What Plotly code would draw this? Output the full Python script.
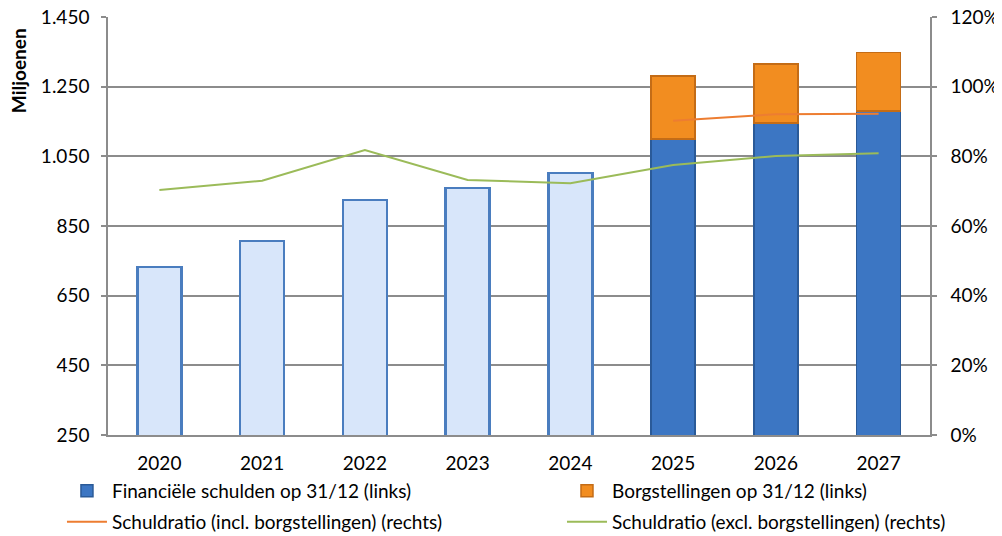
import plotly.graph_objects as go

# --- data ---
jaren = ["2020", "2021", "2022", "2023", "2024", "2025", "2026", "2027"]
financiele_schulden = [732, 807, 925, 959, 1002, 1100, 1146, 1180]
borgstellingen = [None, None, None, None, None, 181, 169, 168]
ratio_incl = [None, None, None, None, None, 0.902, 0.921, 0.922]
ratio_excl = [0.703, 0.730, 0.818, 0.732, 0.723, 0.775, 0.801, 0.809]

links_ticks = [250, 450, 650, 850, 1050, 1250, 1450]
links_labels = ["250", "450", "650", "850", "1.050", "1.250", "1.450"]
rechts_ticks = [0, 0.2, 0.4, 0.6, 0.8, 1.0, 1.2]
rechts_labels = ["0%", "20%", "40%", "60%", "80%", "100%", "120%"]

n_hist = 5  # 2020-2024 realisatie (licht), daarna raming (donker)

FONT = "Lato"
FS = 19
GRID = "#8c8c8c"

fig = go.Figure()

# realisatie: lichte balken, geen eigen legenda-item
fig.add_trace(go.Bar(
    x=jaren[:n_hist], y=financiele_schulden[:n_hist],
    marker=dict(color="#d8e6fa", line=dict(color="#4a7dbf", width=2.5)),
    width=0.43, showlegend=False,
))
# raming: donkerblauw + oranje borgstellingen erbovenop
fig.add_trace(go.Bar(
    x=jaren[n_hist:], y=financiele_schulden[n_hist:],
    name="Financiële schulden op 31/12 (links)",
    marker=dict(color="#3c76c3", line=dict(color="#2a5a98", width=1.5)),
    width=0.43, legend="legend",
))
fig.add_trace(go.Bar(
    x=jaren[n_hist:], y=borgstellingen[n_hist:],
    name="Borgstellingen op 31/12 (links)",
    marker=dict(color="#f28d20", line=dict(color="#c46c16", width=1.5)),
    width=0.43, legend="legend2",
))

fig.add_trace(go.Scatter(
    x=jaren, y=ratio_incl, yaxis="y2", mode="lines",
    name="Schuldratio (incl. borgstellingen) (rechts)",
    line=dict(color="#ed7d31", width=2), legend="legend3",
))
fig.add_trace(go.Scatter(
    x=jaren, y=ratio_excl, yaxis="y2", mode="lines",
    name="Schuldratio (excl. borgstellingen) (rechts)",
    line=dict(color="#9bbb59", width=2), legend="legend4",
))

leg = dict(
    orientation="h", xanchor="left", yanchor="top",
    font=dict(size=FS), itemwidth=40, bgcolor="rgba(0,0,0,0)",
)
col1, col2 = -0.056, 0.5523
row1, row2 = -0.0885, -0.1627

# de pagina heeft 8px body-marge, dus figuur 8px kleiner
fig.update_layout(
    width=994, height=528,
    margin=dict(l=100, r=72, t=9, b=101, autoexpand=False),
    paper_bgcolor="white", plot_bgcolor="white",
    barmode="stack",
    font=dict(family=FONT, size=FS, color="#000000"),
    xaxis=dict(
        type="category", showgrid=False, ticks="",
        showline=True, linecolor=GRID, linewidth=1.5,
        ticklabelstandoff=10,
    ),
    yaxis=dict(
        range=[250, 1450], tickvals=links_ticks, ticktext=links_labels,
        showgrid=True, gridcolor=GRID, gridwidth=1.5,
        showline=True, linecolor=GRID, linewidth=1.5,
        ticks="outside", ticklen=5, tickcolor=GRID, tickwidth=1.5,
        zeroline=False, ticklabelstandoff=8, ticklabeloverflow="allow",
    ),
    yaxis2=dict(
        overlaying="y", side="right", range=[0, 1.2],
        tickvals=rechts_ticks, ticktext=rechts_labels,
        showgrid=False, showline=True, linecolor=GRID, linewidth=1.5,
        ticks="outside", ticklen=5, tickcolor=GRID, tickwidth=1.5,
        zeroline=False, ticklabelstandoff=10, ticklabeloverflow="allow",
    ),
    legend=dict(leg, x=col1, y=row1),
    legend2=dict(leg, x=col2, y=row1),
    legend3=dict(leg, x=col1, y=row2),
    legend4=dict(leg, x=col2, y=row2),
    annotations=[dict(
        text="<b>Miljoenen</b>", textangle=-90, showarrow=False,
        xref="paper", yref="paper", x=-0.108, y=0.871,
        xanchor="center", yanchor="middle", font=dict(size=19),
    )],
)

fig.write_html("out.html")
